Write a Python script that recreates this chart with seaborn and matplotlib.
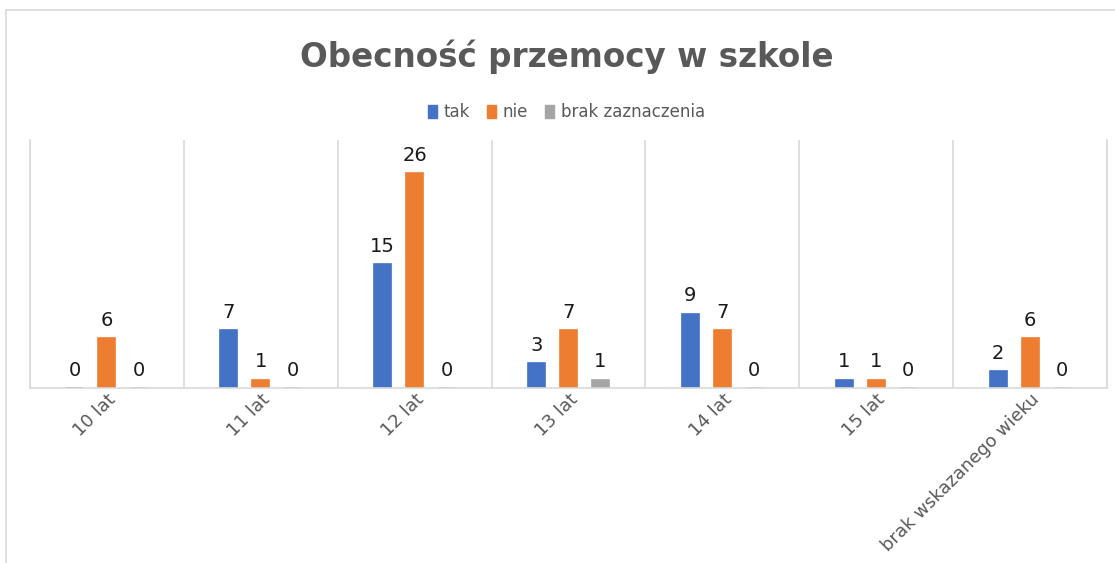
import matplotlib.pyplot as plt
import matplotlib.patches as mpatches
import seaborn as sns
import pandas as pd

# dane z wykresu
kategorie = ['10 lat', '11 lat', '12 lat', '13 lat', '14 lat', '15 lat', 'brak wskazanego wieku']
serie = ['tak', 'nie', 'brak zaznaczenia']
tak = [0, 7, 15, 3, 9, 1, 2]
nie = [6, 1, 26, 7, 7, 1, 6]
brak = [0, 0, 0, 1, 0, 0, 0]
kolory = ['#4472C4', '#ED7D31', '#A5A5A5']

df = pd.DataFrame({
    'Wiek': kategorie * 3,
    'Odpowiedź': [s for s in serie for _ in kategorie],
    'Liczba': tak + nie + brak,
})

sns.set_theme(style="white")
plt.rcParams['font.family'] = ['DejaVu Sans']

fig = plt.figure(figsize=(11.15, 5.63), dpi=100)
ax = fig.add_axes([30 / 1115, 175 / 563, 1077 / 1115, 248 / 563])

sns.barplot(
    data=df, x='Wiek', y='Liczba', hue='Odpowiedź',
    order=kategorie, hue_order=serie, palette=kolory,
    width=0.624, gap=0.47, linewidth=1.2, saturation=1,
    legend=False, ax=ax,
)

# cienka linia dla zer (jak w Excelu)
for cont, c in zip(ax.containers, kolory):
    for p in cont:
        p.set_edgecolor(c)
    ax.bar_label(cont, fmt='%d', padding=6, fontsize=14, color='#1a1a1a')

ax.set_xlim(-0.5, len(kategorie) - 0.5)
ax.set_ylim(0, 30)
ax.set_yticks([])
ax.set_xlabel('')
ax.set_ylabel('')

# pionowe linie między kategoriami
ax.set_xticks([i - 0.5 for i in range(len(kategorie) + 1)], minor=True)
ax.grid(False)
ax.grid(True, which='minor', axis='x', color='#d9d9d9', linewidth=1.2)
ax.tick_params(axis='x', which='both', length=0, pad=2)

ax.set_xticks(range(len(kategorie)))
ax.set_xticklabels(kategorie, rotation=45, ha='right', rotation_mode='anchor',
                   fontsize=13, color='#595959')

ax.spines['top'].set_visible(False)
for side in ['left', 'right', 'bottom']:
    ax.spines[side].set_color('#d9d9d9')
    ax.spines[side].set_linewidth(1.2)

fig.suptitle('Obecność przemocy w szkole', x=0.508, y=1 - 57 / 563, va='center',
             fontsize=23.5, fontweight='bold', color='#595959')

uchwyty = [mpatches.Patch(color=c, label=s) for c, s in zip(kolory, serie)]
fig.legend(handles=uchwyty, loc='center', bbox_to_anchor=(0.508, 1 - 112 / 563),
           ncol=3, frameon=False, fontsize=12, labelcolor='#595959',
           handlelength=0.55, handleheight=0.8, handletextpad=0.4, columnspacing=1.0)

# ramka obszaru wykresu
fig.patches.append(mpatches.Rectangle((6 / 1115, -0.1), 1.2, (563 - 10) / 563 + 0.1,
                                      transform=fig.transFigure, fill=False,
                                      edgecolor='#d9d9d9', linewidth=1.2))

plt.savefig('out.png', dpi=100)
